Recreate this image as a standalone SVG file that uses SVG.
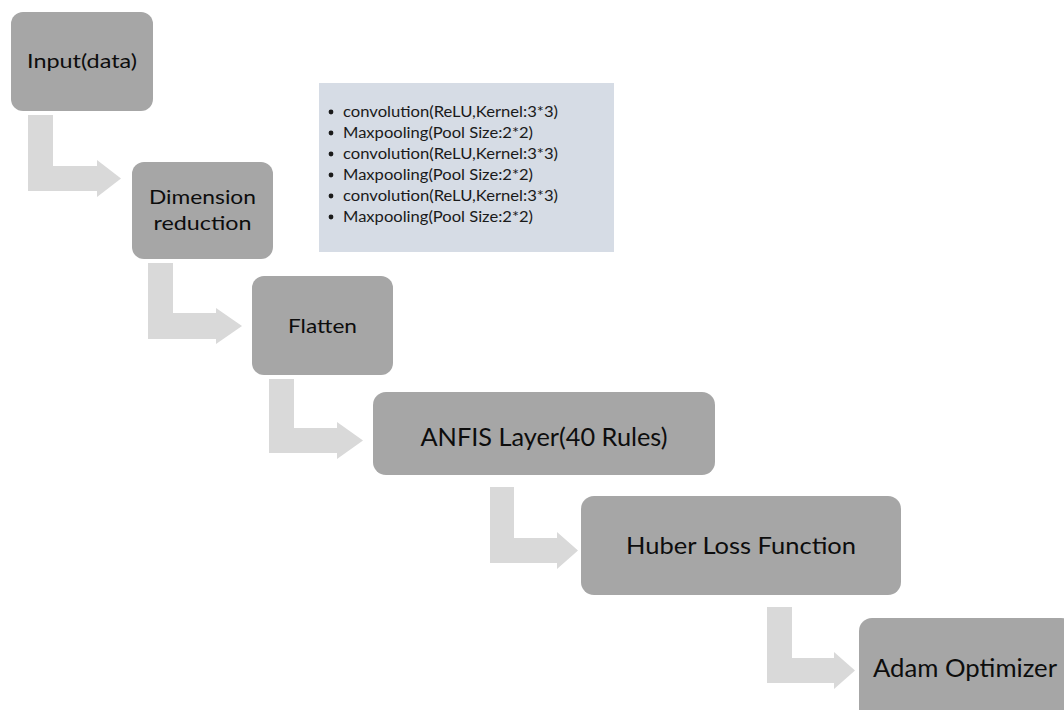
<svg xmlns="http://www.w3.org/2000/svg" width="1064" height="710" viewBox="0 0 1064 710">
<style>
.node{fill:#a6a6a6;}
.lbl{font-family:Lato,"Liberation Sans",Arial,sans-serif;fill:#0d0d0d;text-anchor:middle;}
.arrow{fill:#d9d9d9;}
.info{font-family:Lato,"Liberation Sans",Arial,sans-serif;fill:#1a1a1a;font-size:14.5px;}
</style>
<rect width="1064" height="710" fill="#ffffff"/>
<g id="connectors">
<polygon class="arrow" points="28,115 53,115 53,166 97,166 97,160 121,178.5 97,197 97,191 28,191"/>
<polygon class="arrow" points="148,263 173,263 173,313 216,313 216,308 242,326 216,344 216,339 148,339"/>
<polygon class="arrow" points="269,379 294,379 294,428 337,428 337,422 363,440.5 337,459 337,453 269,453"/>
<polygon class="arrow" points="490,487 514,487 514,538 557,538 557,532 578,550.5 557,569 557,563 490,563"/>
<polygon class="arrow" points="767,607 792,607 792,658 834,658 834,652 855,670.5 834,689 834,683 767,683"/>
</g>
<g id="node-input">
<rect class="node" x="11" y="12" width="142" height="99" rx="12"/>
<text class="lbl" x="82" y="68" font-size="20" textLength="110" lengthAdjust="spacingAndGlyphs">Input(data)</text>
</g>
<g id="node-dimension">
<rect class="node" x="132" y="162" width="141" height="97" rx="12"/>
<text class="lbl" x="202.5" y="204" font-size="20" textLength="107" lengthAdjust="spacingAndGlyphs">Dimension</text>
<text class="lbl" x="202.5" y="230" font-size="20" textLength="98" lengthAdjust="spacingAndGlyphs">reduction</text>
</g>
<g id="info-box">
<rect x="319" y="83" width="295" height="169" fill="#d6dce5"/>
<g fill="#1a1a1a">
<circle cx="331" cy="112" r="2.4"/>
<circle cx="331" cy="133" r="2.4"/>
<circle cx="331" cy="154" r="2.4"/>
<circle cx="331" cy="175" r="2.4"/>
<circle cx="331" cy="196" r="2.4"/>
<circle cx="331" cy="217" r="2.4"/>
</g>
<text class="info" x="343" y="116.5" textLength="215" lengthAdjust="spacingAndGlyphs">convolution(ReLU,Kernel:3*3)</text>
<text class="info" x="343" y="137.5" textLength="190" lengthAdjust="spacingAndGlyphs">Maxpooling(Pool Size:2*2)</text>
<text class="info" x="343" y="158.5" textLength="215" lengthAdjust="spacingAndGlyphs">convolution(ReLU,Kernel:3*3)</text>
<text class="info" x="343" y="179.5" textLength="190" lengthAdjust="spacingAndGlyphs">Maxpooling(Pool Size:2*2)</text>
<text class="info" x="343" y="200.5" textLength="215" lengthAdjust="spacingAndGlyphs">convolution(ReLU,Kernel:3*3)</text>
<text class="info" x="343" y="221.5" textLength="190" lengthAdjust="spacingAndGlyphs">Maxpooling(Pool Size:2*2)</text>
</g>
<g id="node-flatten">
<rect class="node" x="252" y="276" width="141" height="99" rx="12"/>
<text class="lbl" x="322.5" y="333" font-size="20" textLength="69" lengthAdjust="spacingAndGlyphs">Flatten</text>
</g>
<g id="node-anfis">
<rect class="node" x="373" y="392" width="342" height="83" rx="13"/>
<text class="lbl" x="544" y="446" font-size="25.5" textLength="247" lengthAdjust="spacingAndGlyphs">ANFIS Layer(40 Rules)</text>
</g>
<g id="node-huber">
<rect class="node" x="581" y="496" width="320" height="99" rx="13"/>
<text class="lbl" x="741" y="554" font-size="24" textLength="230" lengthAdjust="spacingAndGlyphs">Huber Loss Function</text>
</g>
<g id="node-adam">
<rect class="node" x="859" y="618" width="215" height="110" rx="13"/>
<text class="lbl" x="965" y="677" font-size="25" textLength="184" lengthAdjust="spacingAndGlyphs">Adam Optimizer</text>
</g>
</svg>
